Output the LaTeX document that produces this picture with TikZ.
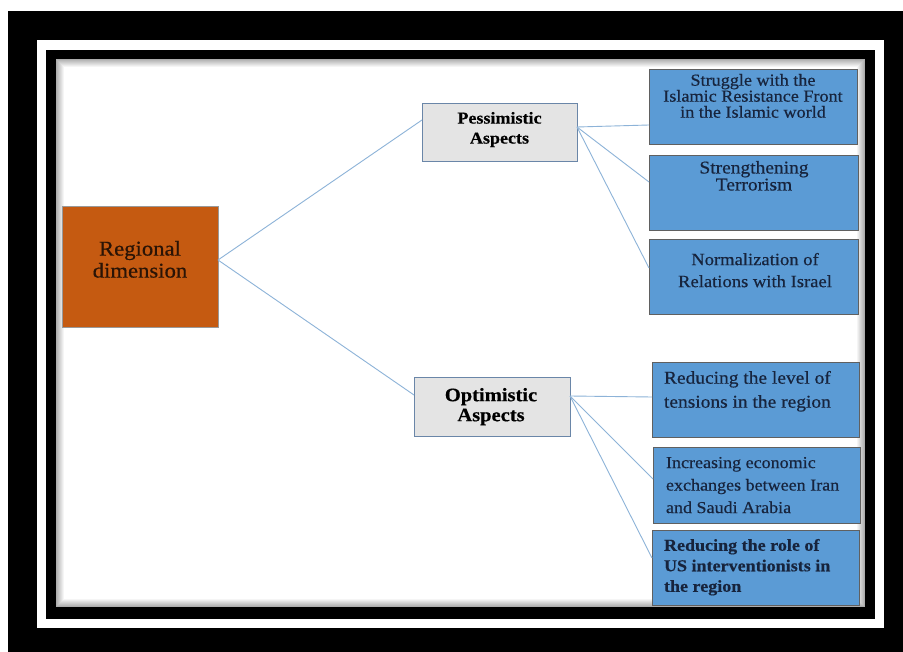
\documentclass[tikz,border=0pt]{standalone}
\usepackage{fontspec}
\setmainfont[FakeStretch=1.08,FakeBold=0.5]{Liberation Serif}
\usetikzlibrary{calc}
\definecolor{orng}{HTML}{C55A11}
\definecolor{bluebx}{HTML}{5B9BD5}
\definecolor{greybx}{HTML}{E4E4E4}
\definecolor{lnk}{HTML}{8DB3D8}
\definecolor{navy}{HTML}{17243D}
\definecolor{brwn}{HTML}{2A1406}
\definecolor{pesborder}{HTML}{6A86A8}
\newcommand\fsz[2]{\fontsize{#1}{#2}\selectfont}
\begin{document}
\begin{tikzpicture}[x=1pt,y=-1pt,
  boxbase/.style={line width=0.8pt, inner sep=0, anchor=north west, outer sep=0},
  orangebox/.style={boxbase, draw=gray!80, fill=orng},
  greybox/.style={boxbase, draw=pesborder, fill=greybx},
  bluebox/.style={boxbase, draw=gray!75!black, fill=bluebx},
  txt/.style={inner sep=0, outer sep=0, text=navy},
  link/.style={draw=lnk, line width=0.9pt}]
\useasboundingbox (0,0) rectangle (903,652);
% frames
\fill[white] (0,0) rectangle (903,652);
\fill[black] (8,11) rectangle (903,652);
\fill[white] (37,40) rectangle (884,628);
\fill[black] (46,50) rectangle (875,619);
\fill[white] (56,59) rectangle (865,607);
\foreach \i in {0,...,7}{
  \pgfmathsetmacro\op{0.32*(1-\i/8)}
  \draw[black, draw opacity=\op, line width=1pt] (56.5+\i,59.5+\i) rectangle (864.5-\i,606.5-\i);
}
% boxes
\node[orangebox, minimum width=156pt, minimum height=121pt] (reg) at (62,206) {};
\node[greybox, minimum width=155pt, minimum height=58pt] (pes) at (422,103) {};
\node[greybox, minimum width=156pt, minimum height=59pt] (opt) at (414,377) {};
\node[bluebox, minimum width=208pt, minimum height=75pt] (b1) at (649,69) {};
\node[bluebox, minimum width=209pt, minimum height=75pt] (b2) at (649,155) {};
\node[bluebox, minimum width=209pt, minimum height=75pt] (b3) at (649,239) {};
\node[bluebox, minimum width=207pt, minimum height=75pt] (o1) at (652,362) {};
\node[bluebox, minimum width=207pt, minimum height=76pt] (o2) at (653,447) {};
\node[bluebox, minimum width=207pt, minimum height=75pt] (o3) at (652,530) {};
% texts
\node[txt, text=brwn, anchor=north, align=center, font=\fsz{21}{22}] (treg) at (140,241) {Regional\\dimension};
\node[txt, text=black, anchor=north, align=center, font=\fsz{16.7}{20}\bfseries] (tpes) at (499.5,112) {Pessimistic\\Aspects};
\node[txt, text=black, anchor=north, align=center, font=\fsz{19}{20}\bfseries] (topt) at (491,388) {Optimistic\\Aspects};
\node[txt, anchor=north, align=center, font=\fsz{16.8}{16}] (tb1) at (753,74) {Struggle with the\\Islamic Resistance Front\\in the Islamic world};
\node[txt, anchor=north, align=center, font=\fsz{18}{17}] (tb2) at (754,161) {Strengthening\\Terrorism};
\node[txt, anchor=north, align=center, font=\fsz{17.2}{22}] (tb3) at (755,253) {Normalization of\\Relations with Israel};
\node[txt, anchor=north west, align=left, font=\fsz{18}{24}] (to1) at (664,371) {Reducing the level of\\tensions in the region};
\node[txt, anchor=north west, align=left, font=\fsz{16.7}{22.5}] (to2) at (666,457) {Increasing economic\\exchanges between Iran\\and Saudi Arabia};
\node[txt, anchor=north west, align=left, font=\fsz{16.7}{20.5}\bfseries] (to3) at (664,539) {Reducing the role of\\US interventionists in\\the region};
% connectors
\draw[link] ($(reg.east)+(0,-6.5)$) -- ($(pes.west)+(0,-12)$);
\draw[link] ($(reg.east)+(0,-6.5)$) -- ($(opt.west)+(0,-11.5)$);
\draw[link] ($(pes.east)+(0,-5)$) -- ($(b1.west)+(0,18.5)$);
\draw[link] ($(pes.east)+(0,-5)$) -- ($(b2.west)+(0,-10.5)$);
\draw[link] ($(pes.east)+(0,-5)$) -- ($(b3.west)+(0,-8.5)$);
\draw[link] ($(opt.east)+(0,-10.5)$) -- ($(o1.west)+(0,-2.5)$);
\draw[link] ($(opt.east)+(0,-10.5)$) -- ($(o2.west)+(0,-6)$);
\draw[link] ($(opt.east)+(0,-10.5)$) -- ($(o3.west)+(0,-9.5)$);
\end{tikzpicture}
\end{document}
